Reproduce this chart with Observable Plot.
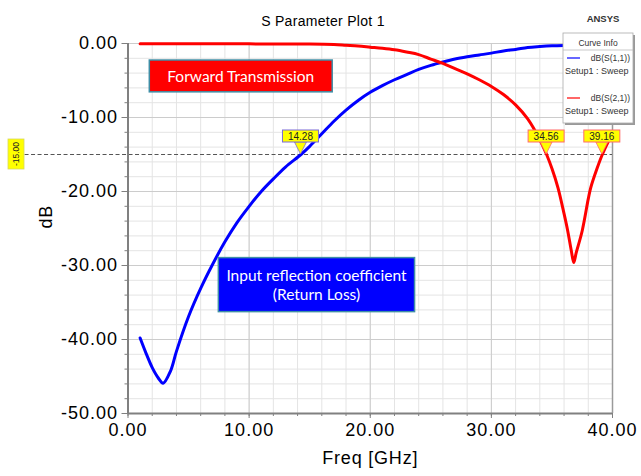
<!DOCTYPE html>
<html>
<head>
<meta charset="utf-8">
<script src="https://cdn.jsdelivr.net/npm/d3@7"></script>
<script src="https://cdn.jsdelivr.net/npm/@observablehq/plot@0.6"></script>
<style>
  html, body { margin: 0; padding: 0; background: white; }
  #chart svg { display: block; }
</style>
</head>
<body>
<div id="chart"></div>
<script>
// ---- Data ----
const s11Freq = [1, 1.5, 2, 2.5, 2.9, 3.5, 4, 5, 6, 7, 8, 9, 10, 11, 12, 13, 14.28, 15, 16, 17, 18, 19, 20, 21, 22, 23, 24, 25, 26, 27, 28, 29, 30, 31, 32, 33, 34, 35, 36, 37, 38, 39, 40];
const s11dB   = [-39.8, -41.9, -43.8, -45.2, -45.9, -44.3, -41.6, -36.9, -33.1, -29.8, -26.8, -24.2, -22.0, -20.0, -18.3, -16.7, -15.0, -13.9, -12.2, -10.5, -9.0, -7.7, -6.6, -5.7, -4.9, -4.2, -3.5, -2.95, -2.5, -2.1, -1.8, -1.55, -1.3, -1.0, -0.8, -0.55, -0.42, -0.32, -0.26, -0.22, -0.2, -0.2, -0.2];

const s21Freq = [1, 5, 10, 15, 17, 18, 19, 20, 21, 22, 23, 24, 25, 26, 27, 28, 29, 30, 31, 32, 33, 34, 34.56, 35, 35.5, 36, 36.3, 36.6, 36.8, 37, 37.5, 38, 38.2, 38.7, 39.16, 39.7, 40];
const s21dB   = [-0.05, -0.05, -0.05, -0.08, -0.15, -0.25, -0.35, -0.5, -0.65, -0.85, -1.15, -1.5, -2.1, -2.7, -3.4, -4.1, -4.9, -5.8, -6.9, -8.3, -10.2, -13.0, -15.0, -16.9, -19.5, -23.0, -25.3, -28.0, -29.6, -28.3, -25.3, -21.0, -19.5, -17.0, -15.0, -13.1, -12.3];

const xTicks = [0, 10, 20, 30, 40];
const yTicks = [0, -10, -20, -30, -40, -50];
const xMinor = d3.range(0, 40.001, 2);
const yMinor = d3.range(-50, 0.001, 2);

const markerLevel = -15;
const markerFreqs = [14.28, 34.56, 39.16];
const markerCurve = ["s11", "s21", "s21"];
const markerLineStart = -8.5;  // dashed line runs into left margin (GHz units)

const boxes = [
  {x1: 1.8, x2: 16.9, y1: -2.3, y2: -6.6, fill: "#ff0000", lines: ["Forward Transmission"]},
  {x1: 7.5, x2: 23.7, y1: -29.0, y2: -36.3, fill: "#0000ff", lines: ["Input reflection coefficient", "(Return Loss)"]}
];

const s11 = s11Freq.map((f, i) => ({f, v: s11dB[i]}));
const s21 = s21Freq.map((f, i) => ({f, v: s21dB[i]}));

const svg = Plot.plot({
  width: 641,
  height: 476,
  marginLeft: 127.5,
  marginRight: 29,
  marginTop: 43,
  marginBottom: 63,
  x: {domain: [0, 40]},
  y: {domain: [-50, 0]},
  style: {fontFamily: "'Liberation Sans', Arial, sans-serif", background: "white", color: "black"},
  marks: [
    Plot.gridX(xMinor, {stroke: "#e4e4e4", strokeOpacity: 1}),
    Plot.gridY(yMinor, {stroke: "#e4e4e4", strokeOpacity: 1}),
    Plot.gridX(xTicks, {stroke: "#cccccc", strokeOpacity: 1}),
    Plot.gridY(yTicks, {stroke: "#cccccc", strokeOpacity: 1}),
    Plot.ruleX([40], {stroke: "#9a9a9a", strokeWidth: 1.5}),
    Plot.ruleY([markerLevel], {x1: markerLineStart, x2: 40, stroke: "#555", strokeDasharray: "4,2.5", strokeWidth: 1.2}),
    Plot.line(s11, {x: "f", y: "v", stroke: "#0000ff", strokeWidth: 3, curve: "catmull-rom"}),
    Plot.line(s21, {x: "f", y: "v", stroke: "#ff0000", strokeWidth: 3, curve: "catmull-rom"}),
    Plot.rect(boxes, {x1: "x1", x2: "x2", y1: "y1", y2: "y2", fill: "fill", stroke: "#3f8ea6", strokeWidth: 1.5}),
    Plot.axisY(yTicks, {tickFormat: d => d.toFixed(2), fontSize: 18, tickSize: 6, tickPadding: 4, stroke: "#808080", label: null}),
    Plot.axisY(yMinor, {tickSize: 3, stroke: "#808080", text: null, label: null}),
    Plot.axisX(xTicks, {tickFormat: d => d.toFixed(2), fontSize: 18, tickSize: 5, tickPadding: 5, stroke: "#808080", label: null}),
    Plot.axisX(xMinor, {tickSize: 3, stroke: "#808080", text: null, label: null}),
    Plot.ruleX([0], {stroke: "#808080", strokeWidth: 2}),
    Plot.ruleY([-50], {stroke: "#808080", strokeWidth: 2}),
    Plot.text(["dB"], {frameAnchor: "left", dx: -82, rotate: -90, fontSize: 18}),
    Plot.text(["Freq [GHz]"], {frameAnchor: "bottom", dy: 50, fontSize: 18})
  ]
});

const root = d3.select(svg);
root.selectAll('[aria-label="y-axis tick label"] text, [aria-label="x-axis tick label"] text').attr("letter-spacing", 1);
root.selectAll('[aria-label="text"] text').attr("letter-spacing", 0.8);

const xs = svg.scale("x"), ys = svg.scale("y");
const g = root.append("g");

// Annotation box texts
boxes.forEach(b => {
  const cx = (xs.apply(b.x1) + xs.apply(b.x2)) / 2;
  const cy = (ys.apply(b.y1) + ys.apply(b.y2)) / 2;
  const lh = 19;
  b.lines.forEach((t, i) => {
    g.append("text")
      .attr("x", cx)
      .attr("y", cy + (i - (b.lines.length - 1) / 2) * lh)
      .attr("text-anchor", "middle")
      .attr("dominant-baseline", "central")
      .attr("fill", "white")
      .attr("font-family", "Lato, 'Open Sans', sans-serif")
      .attr("font-size", 15.5)
      .text(t);
  });
});

// Marker tags
markerFreqs.forEach((f, i) => {
  const px = xs.apply(f), py = ys.apply(markerLevel);
  const border = markerCurve[i] === "s11" ? "#7a6ad8" : "#ff6b6b";
  g.append("path")
    .attr("d", `M${px - 6},${py - 12} L${px + 6},${py - 12} L${px},${py} Z`)
    .attr("fill", "#ffff00").attr("stroke", border).attr("stroke-width", 0.8);
  g.append("rect")
    .attr("x", px - 18).attr("y", py - 24).attr("width", 36).attr("height", 12)
    .attr("fill", "#ffff00").attr("stroke", border).attr("stroke-width", 1);
  g.append("text")
    .attr("x", px).attr("y", py - 18)
    .attr("text-anchor", "middle").attr("dominant-baseline", "central")
    .attr("font-size", 10).attr("fill", "#222")
    .text(f.toFixed(2));
});

// Level tag -15.00
{
  const py = ys.apply(markerLevel);
  g.append("rect").attr("x", 8).attr("y", py - 15).attr("width", 16).attr("height", 30)
    .attr("fill", "#ffff00").attr("stroke", "#d8d860").attr("stroke-width", 0.8);
  g.append("text")
    .attr("transform", `translate(16,${py}) rotate(-90)`)
    .attr("text-anchor", "middle").attr("dominant-baseline", "central")
    .attr("font-size", 8.5).attr("fill", "#222")
    .text(markerLevel.toFixed(2));
}

// Title and brand
g.append("text").attr("x", 323).attr("y", 21).attr("text-anchor", "middle")
  .attr("dominant-baseline", "central").attr("font-size", 14).attr("letter-spacing", 0.3).text("S Parameter Plot 1");
g.append("text").attr("x", 603).attr("y", 18).attr("text-anchor", "middle")
  .attr("dominant-baseline", "central").attr("font-size", 9.5).attr("font-weight", "bold")
  .attr("fill", "#333").text("ANSYS");

// Curve Info legend
{
  const lg = g.append("g").attr("font-size", 8.5).attr("fill", "#333");
  lg.append("rect").attr("x", 565).attr("y", 35).attr("width", 70).attr("height", 90).attr("fill", "#999");
  lg.append("rect").attr("x", 563).attr("y", 33).attr("width", 70).attr("height", 90)
    .attr("fill", "white").attr("stroke", "#aaa").attr("stroke-width", 0.8);
  lg.append("text").attr("x", 598).attr("y", 43).attr("text-anchor", "middle").attr("dominant-baseline", "central").text("Curve Info");
  lg.append("line").attr("x1", 563).attr("x2", 633).attr("y1", 50).attr("y2", 50).attr("stroke", "#bbb").attr("stroke-width", 0.8);
  const items = [{c: "#0000ff", n: "dB(S(1,1))", y: 58}, {c: "#ff0000", n: "dB(S(2,1))", y: 98}];
  items.forEach(it => {
    lg.append("line").attr("x1", 567).attr("x2", 580).attr("y1", it.y).attr("y2", it.y).attr("stroke", it.c).attr("stroke-width", 1.2);
    lg.append("text").attr("x", 630).attr("y", it.y).attr("text-anchor", "end").attr("dominant-baseline", "central").text(it.n);
    lg.append("text").attr("x", 565).attr("y", it.y + 13).attr("text-anchor", "start").attr("dominant-baseline", "central").attr("font-size", 9).text("Setup1 : Sweep");
  });
}

document.getElementById("chart").appendChild(svg);
</script>
</body>
</html>
